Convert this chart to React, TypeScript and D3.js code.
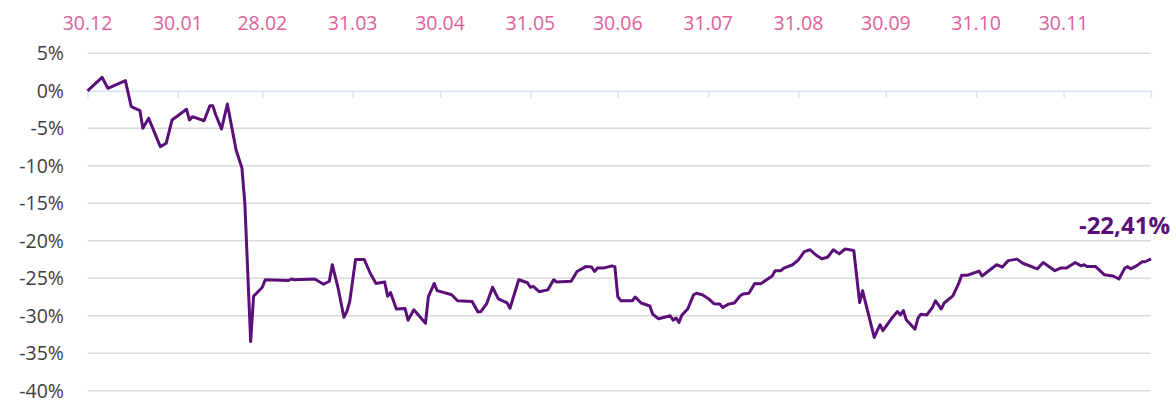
import React, { useEffect, useRef } from 'react'
import * as d3 from 'd3'

// daily index change vs 30.12.2021, %
const dates = [
  '2021-12-30','2022-01-04','2022-01-06','2022-01-12','2022-01-14','2022-01-17','2022-01-18','2022-01-20','2022-01-24','2022-01-26',
  '2022-01-28','2022-02-02','2022-02-03','2022-02-04','2022-02-08','2022-02-10','2022-02-11','2022-02-12','2022-02-14','2022-02-16',
  '2022-02-19','2022-02-21','2022-02-22','2022-02-24','2022-02-25','2022-02-28','2022-03-01','2022-03-09','2022-03-10','2022-03-11',
  '2022-03-18','2022-03-21','2022-03-23','2022-03-24','2022-03-26','2022-03-28','2022-03-29','2022-03-30','2022-04-01','2022-04-04',
  '2022-04-06','2022-04-08','2022-04-11','2022-04-12','2022-04-13','2022-04-15','2022-04-18','2022-04-19','2022-04-21','2022-04-23',
  '2022-04-25','2022-04-26','2022-04-28','2022-04-29','2022-05-04','2022-05-06','2022-05-11','2022-05-13','2022-05-14','2022-05-16',
  '2022-05-18','2022-05-20','2022-05-23','2022-05-24','2022-05-27','2022-05-30','2022-05-31','2022-06-01','2022-06-03','2022-06-06',
  '2022-06-08','2022-06-09','2022-06-14','2022-06-16','2022-06-19','2022-06-21','2022-06-22','2022-06-23','2022-06-25','2022-06-28',
  '2022-06-29','2022-06-30','2022-07-01','2022-07-05','2022-07-06','2022-07-08','2022-07-11','2022-07-12','2022-07-14','2022-07-18',
  '2022-07-19','2022-07-20','2022-07-21','2022-07-22','2022-07-24','2022-07-26','2022-07-27','2022-07-29','2022-07-31','2022-08-02',
  '2022-08-04','2022-08-05','2022-08-07','2022-08-09','2022-08-11','2022-08-12','2022-08-14','2022-08-16','2022-08-18','2022-08-22',
  '2022-08-23','2022-08-25','2022-08-26','2022-08-29','2022-08-31','2022-09-02','2022-09-04','2022-09-06','2022-09-08','2022-09-10',
  '2022-09-12','2022-09-14','2022-09-16','2022-09-19','2022-09-20','2022-09-21','2022-09-22','2022-09-26','2022-09-28','2022-09-29',
  '2022-10-02','2022-10-04','2022-10-05','2022-10-06','2022-10-07','2022-10-10','2022-10-11','2022-10-12','2022-10-14','2022-10-16',
  '2022-10-17','2022-10-19','2022-10-20','2022-10-23','2022-10-25','2022-10-26','2022-10-28','2022-11-01','2022-11-02','2022-11-07',
  '2022-11-09','2022-11-11','2022-11-14','2022-11-16','2022-11-21','2022-11-23','2022-11-27','2022-11-29','2022-12-01','2022-12-04',
  '2022-12-06','2022-12-07','2022-12-08','2022-12-11','2022-12-14','2022-12-17','2022-12-19','2022-12-21','2022-12-22','2022-12-23',
  '2022-12-25','2022-12-27','2022-12-28','2022-12-30'
]
const values = [
  0, 1.8, 0.33, 1.35, -2.1, -2.65, -5.0, -3.67, -7.45, -7.0,
  -3.9, -2.47, -3.9, -3.45, -4.0, -2.0, -2.0, -3.2, -5.1, -1.76,
  -7.9, -10.3, -15.0, -33.45, -27.4, -26.2, -25.2, -25.3, -25.1, -25.2,
  -25.1, -25.8, -25.4, -23.2, -26.3, -30.2, -29.45, -28.1, -22.5, -22.5,
  -24.3, -25.7, -25.5, -27.4, -26.9, -29.1, -29.05, -30.6, -29.2, -30.1,
  -31.0, -27.45, -25.7, -26.65, -27.2, -28.0, -28.1, -29.5, -29.45, -28.4,
  -26.2, -27.75, -28.3, -29.0, -25.2, -25.6, -26.2, -26.1, -26.8, -26.55,
  -25.2, -25.5, -25.4, -24.1, -23.45, -23.5, -24.1, -23.65, -23.65, -23.35,
  -23.45, -27.45, -28.0, -28.0, -27.5, -28.3, -28.7, -29.8, -30.4, -30.0,
  -30.6, -30.3, -30.9, -29.9, -29.1, -27.2, -27.0, -27.2, -27.7, -28.4,
  -28.45, -28.9, -28.45, -28.3, -27.35, -27.1, -27.0, -25.7, -25.75, -24.7,
  -24.0, -24.0, -23.65, -23.2, -22.55, -21.45, -21.2, -21.9, -22.4, -22.2,
  -21.2, -21.75, -21.1, -21.3, -24.8, -28.25, -26.65, -32.9, -31.2, -32.0,
  -30.35, -29.45, -29.9, -29.3, -30.55, -31.8, -30.35, -29.8, -29.9, -28.9,
  -28.0, -29.1, -28.3, -27.35, -25.7, -24.6, -24.6, -24.05, -24.7, -23.2,
  -23.5, -22.65, -22.45, -23.0, -23.75, -22.9, -24.0, -23.65, -23.65, -22.9,
  -23.35, -23.2, -23.45, -23.45, -24.55, -24.7, -25.1, -23.65, -23.45, -23.75,
  -23.35, -22.8, -22.8, -22.41
]
const tickDates = ['2021-12-30','2022-01-30','2022-02-28','2022-03-31','2022-04-30','2022-05-31','2022-06-30',
  '2022-07-31','2022-08-31','2022-09-30','2022-10-31','2022-11-30','2022-12-30']
const yTicks = [5, 0, -5, -10, -15, -20, -25, -30, -35, -40]
const lastLabel = '-22,41%'

export default function App(){
  const svgRef = useRef(null)

  useEffect(()=>{
    const width = 1176, height = 401
    const m = {left:87.5, right:1151, top:53.3, bottom:390.7}
    const parse = d3.timeParse('%Y-%m-%d')
    const data = dates.map((d,i)=>({date:parse(d), value:values[i]}))
    const ticks = tickDates.map(d=>parse(d))

    const svg = d3.select(svgRef.current).attr('width',width).attr('height',height)
    svg.selectAll('*').remove()

    const x = d3.scaleTime().domain([ticks[0], ticks[ticks.length-1]]).range([m.left, m.right])
    const y = d3.scaleLinear().domain([5,-40]).range([m.top, m.bottom])
    const font = '"Open Sans", sans-serif'

    // gridlines
    svg.append('g').selectAll('line').data(yTicks.filter(t=>t!==0)).join('line')
      .attr('x1',m.left).attr('x2',m.right).attr('y1',d=>y(d)).attr('y2',d=>y(d))
      .attr('stroke','#d9d9d9').attr('stroke-width',1.5)

    // y labels
    svg.append('g').selectAll('text').data(yTicks).join('text')
      .attr('x',64).attr('y',d=>y(d)).attr('dy','0.36em').attr('text-anchor','end')
      .attr('font-family',font).attr('font-size',19.5).attr('fill','#404040')
      .text(d=>`${d}%`)

    // zero axis with ticks
    const axis = svg.append('g').attr('transform',`translate(0,${y(0)})`)
      .call(d3.axisBottom(x).tickValues(ticks).tickSize(7).tickFormat(()=>'').tickSizeOuter(0))
    axis.select('.domain').attr('stroke','#d6e3f3').attr('stroke-width',1.5)
    axis.selectAll('line').attr('stroke','#d6e3f3').attr('stroke-width',1.5)

    // top date labels
    svg.append('g').selectAll('text').data(ticks.slice(0,-1)).join('text')
      .attr('x',d=>x(d)).attr('y',30).attr('text-anchor','middle')
      .attr('font-family',font).attr('font-size',19.5).attr('fill','#e0609a')
      .text(d=>d3.timeFormat('%d.%m')(d))

    // line
    const line = d3.line().x(d=>x(d.date)).y(d=>y(d.value))
    svg.append('path').datum(data).attr('d',line)
      .attr('fill','none').attr('stroke','#5b0f79').attr('stroke-width',3).attr('stroke-linejoin','round')

    // last value label
    svg.append('text').attr('x',1170).attr('y',234).attr('text-anchor','end')
      .attr('font-family',font).attr('font-weight','bold').attr('font-size',24).attr('fill','#5b0f79')
      .text(lastLabel)
  },[])

  return (<svg ref={svgRef} style={{position:'absolute', left:0, top:0}}></svg>)
}
